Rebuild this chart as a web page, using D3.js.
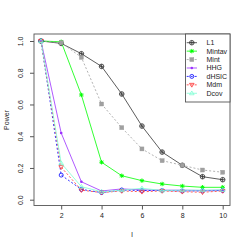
<!DOCTYPE html>
<html><head><meta charset="utf-8">
<script src="https://cdn.jsdelivr.net/npm/d3@7"></script>
<style>body{margin:0;background:#fff}svg{display:block}text{font-family:"Liberation Sans",Arial,sans-serif}</style>
</head><body><svg id="c" width="248" height="249"></svg>
<script>
const lValues = [1,2,3,4,5,6,7,8,9,10];
const seriesNames = ["L1","Mintav","Mint","HHG","dHSIC","Mdm","Dcov"];
const L1 = [1.0,0.985,0.92,0.84,0.666,0.464,0.30,0.217,0.145,0.126];
const Mintav = [1.0,0.995,0.66,0.236,0.151,0.12,0.099,0.086,0.078,0.078];
const Mint = [1.0,0.99,0.897,0.603,0.454,0.32,0.246,0.217,0.187,0.173];
const HHG = [1.0,0.42,0.113,0.055,0.068,0.062,0.06,0.06,0.058,0.06];
const dHSIC = [1.0,0.155,0.065,0.045,0.06,0.058,0.058,0.055,0.055,0.058];
const Mdm = [1.0,0.205,0.06,0.045,0.055,0.05,0.055,0.05,0.047,0.055];
const Dcov = [1.0,0.23,0.082,0.05,0.06,0.072,0.058,0.06,0.06,0.062];
const xTicks = [2,4,6,8,10];
const yTicks = [0,0.2,0.4,0.6,0.8,1.0];

const styles = {
  L1:{color:"#333333",dash:null,shape:"circplus"},
  Mintav:{color:"#00ff00",dash:null,shape:"star"},
  Mint:{color:"#a0a0a0",dash:"2,2",shape:"square"},
  HHG:{color:"#9b30ff",dash:null,shape:"dot"},
  dHSIC:{color:"#0000ff",dash:"2,2",shape:"circle"},
  Mdm:{color:"#ff3030",dash:"2,2",shape:"tridown"},
  Dcov:{color:"#7fffd4",dash:null,shape:"triup"}
};
const data = {L1,Mintav,Mint,HHG,dHSIC,Mdm,Dcov};

const svg = d3.select("#c");
const x = d3.scaleLinear().domain([1,10]).range([41,222.7]);
const y = d3.scaleLinear().domain([0,1]).range([199.7,41]);
const L=34,R=230,T=34,B=205.5;

svg.append("rect").attr("x",L).attr("y",T).attr("width",R-L).attr("height",B-T)
  .attr("fill","none").attr("stroke","#555").attr("stroke-width",0.9);

const xa = svg.append("g").attr("transform",`translate(0,${B})`)
  .call(d3.axisBottom(x).tickValues(xTicks).tickSize(4).tickPadding(4).tickFormat(d3.format("d")));
xa.select(".domain").remove();
xa.selectAll("text").attr("font-size",7).attr("fill","#222").style("font-family","Liberation Sans, Arial");
xa.selectAll("line").attr("stroke","#555");

const ya = svg.append("g").attr("transform",`translate(${L},0)`)
  .call(d3.axisLeft(y).tickValues(yTicks).tickSize(4).tickFormat(d3.format(".1f")));
ya.select(".domain").remove();
ya.selectAll("line").attr("stroke","#555");
ya.selectAll("text").attr("font-size",7).attr("fill","#222").style("font-family","Liberation Sans, Arial")
  .attr("x",null).attr("dy",null)
  .attr("text-anchor","middle")
  .attr("transform","translate(-11.5,0) rotate(-90)");

svg.append("text").attr("transform","translate(8.5,120) rotate(-90)").attr("text-anchor","middle")
  .attr("font-size",7).attr("fill","#222").text("Power");
svg.append("text").attr("x",132).attr("y",237).attr("text-anchor","middle")
  .attr("font-size",7).attr("fill","#222").text("l");

function marker(g, shape, color, cx, cy){
  const s = g.append("g").attr("transform",`translate(${cx},${cy})`);
  if(shape==="circplus"){
    s.append("circle").attr("r",2.3).attr("fill","none").attr("stroke",color).attr("stroke-width",0.8);
    s.append("path").attr("d","M-2.3,0H2.3M0,-2.3V2.3").attr("stroke",color).attr("stroke-width",0.8);
  } else if(shape==="star"){
    s.append("path").attr("d","M-2.2,0H2.2M0,-2.2V2.2M-1.6,-1.6L1.6,1.6M-1.6,1.6L1.6,-1.6").attr("stroke",color).attr("stroke-width",1);
  } else if(shape==="square"){
    s.append("rect").attr("x",-2).attr("y",-2).attr("width",4).attr("height",4).attr("fill",color).attr("stroke","#999").attr("stroke-width",0.4);
  } else if(shape==="dot"){
    s.append("circle").attr("r",1.3).attr("fill",color);
  } else if(shape==="circle"){
    s.append("circle").attr("r",2).attr("fill","none").attr("stroke",color).attr("stroke-width",0.8);
  } else if(shape==="tridown"){
    s.append("path").attr("d","M-2.3,-1.5L2.3,-1.5L0,2.3Z").attr("fill","none").attr("stroke",color).attr("stroke-width",0.8);
  } else if(shape==="triup"){
    s.append("path").attr("d","M-2.3,1.5L2.3,1.5L0,-2.3Z").attr("fill","none").attr("stroke",color).attr("stroke-width",0.8);
  }
}

const line = d3.line().x((d,i)=>x(lValues[i])).y(d=>y(d));
seriesNames.forEach(n=>{
  const st = styles[n];
  const g = svg.append("g");
  g.append("path").attr("d",line(data[n])).attr("fill","none").attr("stroke",st.color)
    .attr("stroke-width",0.8).attr("stroke-dasharray",st.dash);
  data[n].forEach((v,i)=>marker(g, st.shape, st.color, x(lValues[i]), y(v)));
});

const lg = svg.append("g");
lg.append("rect").attr("x",185.5).attr("y",T).attr("width",R-185.5).attr("height",102-T)
  .attr("fill","#fff").attr("stroke","#555").attr("stroke-width",0.9);
seriesNames.forEach((n,i)=>{
  const st = styles[n];
  const yy = 42.7 + i*8.43;
  lg.append("path").attr("d",`M186.7,${yy}H197`).attr("stroke",st.color).attr("stroke-width",0.8).attr("stroke-dasharray",st.dash);
  marker(lg, st.shape, st.color, 191.8, yy);
  lg.append("text").attr("x",206.5).attr("y",yy+2.5).attr("font-size",7).attr("fill","#222").text(n);
});
</script></body></html>
